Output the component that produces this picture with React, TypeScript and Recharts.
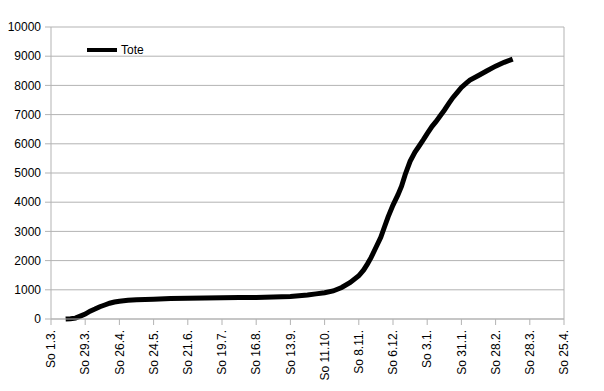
import React from "react";
import { LineChart, Line, XAxis, YAxis, CartesianGrid, ReferenceLine } from "recharts";

// day offsets from Sunday 1.3.2020
const days = [12, 16, 20, 24, 28, 32, 36, 40, 44, 48, 52, 56, 63, 70, 84, 98, 112, 126, 140, 154, 168, 182, 196, 210, 217, 224, 231, 238, 245, 252, 256, 259, 262, 266, 270, 273, 276, 280, 284, 287, 290, 294, 298, 301, 305, 308, 312, 315, 319, 322, 326, 329, 333, 336, 340, 343, 350, 357, 364, 371, 378];
const tote = [1, 10, 30, 100, 170, 270, 340, 420, 480, 540, 580, 610, 640, 660, 680, 700, 710, 720, 730, 735, 740, 750, 770, 820, 860, 900, 960, 1080, 1250, 1480, 1680, 1880, 2100, 2450, 2800, 3150, 3500, 3900, 4250, 4550, 4950, 5400, 5720, 5900, 6150, 6350, 6600, 6750, 6980, 7150, 7400, 7580, 7780, 7930, 8080, 8180, 8340, 8500, 8660, 8790, 8900];

const xTickDays = [0, 28, 56, 84, 112, 140, 168, 196, 224, 252, 280, 308, 336, 364, 392, 420];
const xTickLabels = ["So 1.3.", "So 29.3.", "So 26.4.", "So 24.5.", "So 21.6.", "So 19.7.", "So 16.8.", "So 13.9.", "So 11.10.", "So 8.11.", "So 6.12.", "So 3.1.", "So 31.1.", "So 28.2.", "So 28.3.", "So 25.4."];
const yTicks = [0, 1000, 2000, 3000, 4000, 5000, 6000, 7000, 8000, 9000, 10000];

const data = days.map((d, i) => ({ day: d, tote: tote[i] }));

const FONT = "'Liberation Sans', Arial, sans-serif";

const XTick = (props: any) => {
  const { x, y, payload } = props;
  const idx = xTickDays.indexOf(payload.value);
  const label = idx >= 0 ? xTickLabels[idx] : "";
  return (
    <g transform={`translate(${x},${y})`}>
      <text transform="rotate(-90)" textAnchor="end" dy="0.35em" x={0} y={0} fontSize={12} fill="#000" fontFamily={FONT}>
        {label}
      </text>
    </g>
  );
};

export default function App() {
  return (
    <div style={{ position: "absolute", left: 0, top: 0, width: 604, height: 391, background: "#fff" }}>
      <LineChart width={604} height={391} data={data} margin={{ top: 27, right: 40, bottom: 0, left: 0 }}>
        <CartesianGrid horizontal={true} vertical={false} stroke="#b3b3b3" />
        <XAxis
          dataKey="day"
          type="number"
          domain={[0, 420]}
          ticks={xTickDays}
          interval={0}
          height={72}
          tickSize={6}
          tickMargin={5}
          stroke="#b3b3b3"
          tick={<XTick />}
        />
        <YAxis
          type="number"
          domain={[0, 10000]}
          ticks={yTicks}
          interval={0}
          width={51}
          tickSize={6}
          tickMargin={4}
          stroke="#b3b3b3"
          tick={{ fill: "#000", fontSize: 12, fontFamily: FONT }}
        />
        <ReferenceLine x={420} stroke="#b3b3b3" />
        <Line type="linear" dataKey="tote" stroke="#000" strokeWidth={5} dot={false} isAnimationActive={false} />
      </LineChart>
      <div style={{ position: "absolute", left: 87, top: 43, display: "flex", alignItems: "center", fontFamily: FONT, fontSize: 12, color: "#000" }}>
        <div style={{ width: 30, height: 4, background: "#000", marginRight: 4 }} />
        <span>Tote</span>
      </div>
    </div>
  );
}
